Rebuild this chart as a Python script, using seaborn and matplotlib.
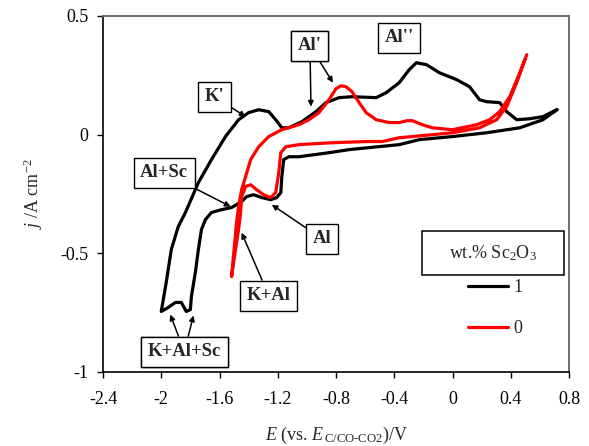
import matplotlib
matplotlib.use("Agg")
import matplotlib.pyplot as plt
from matplotlib.patches import Rectangle
import seaborn as sns
import pandas as pd

# 1 wt.% Sc2O3 cycle (cathodic from 0.7 V, back along the outer branch)
e_sc1 = [0.717, 0.621, 0.462, 0.234, 0.0, -0.228, -0.366, -0.710, -0.848, -1.055,
         -1.124, -1.159, -1.172, -1.179, -1.207, -1.248, -1.310, -1.366, -1.414, -1.448,
         -1.517, -1.586, -1.655, -1.697, -1.724, -1.745, -1.766, -1.793, -1.800, -1.828,
         -1.862, -1.903, -1.952, -2.000, -1.986, -1.966, -1.931, -1.883, -1.834, -1.745,
         -1.655, -1.559, -1.469, -1.400, -1.331, -1.262, -1.214, -1.172, -1.124, -1.034,
         -0.938, -0.869, -0.779, -0.690, -0.524, -0.455, -0.366, -0.297, -0.248, -0.179,
         -0.090, 0.028, 0.117, 0.186, 0.234, 0.324, 0.372, 0.441, 0.531, 0.621,
         0.690, 0.717]
j_sc1 = [0.105, 0.063, 0.029, 0.008, -0.008, -0.021, -0.042, -0.063, -0.076, -0.093,
         -0.093, -0.105, -0.177, -0.244, -0.265, -0.274, -0.265, -0.253, -0.261, -0.282,
         -0.307, -0.316, -0.328, -0.358, -0.400, -0.484, -0.581, -0.682, -0.737, -0.745,
         -0.707, -0.707, -0.728, -0.745, -0.695, -0.623, -0.484, -0.387, -0.328, -0.202,
         -0.105, -0.008, 0.063, 0.093, 0.105, 0.097, 0.063, 0.029, 0.029, 0.055,
         0.097, 0.135, 0.156, 0.160, 0.156, 0.177, 0.219, 0.274, 0.303, 0.295,
         0.261, 0.232, 0.202, 0.147, 0.139, 0.135, 0.097, 0.063, 0.067, 0.076,
         0.097, 0.105]

# 0 wt.% Sc2O3 cycle
e_sc0 = [0.497, 0.441, 0.372, 0.303, 0.186, 0.0, -0.138, -0.366, -0.483, -0.593,
         -0.828, -1.055, -1.145, -1.179, -1.193, -1.214, -1.248, -1.297, -1.345, -1.386,
         -1.421, -1.448, -1.455, -1.469, -1.490, -1.517, -1.483, -1.469, -1.448, -1.421,
         -1.386, -1.331, -1.262, -1.172, -1.055, -0.986, -0.917, -0.848, -0.800, -0.766,
         -0.731, -0.690, -0.641, -0.593, -0.524, -0.434, -0.366, -0.310, -0.276, -0.207,
         -0.138, 0.0, 0.166, 0.255, 0.324, 0.393, 0.462, 0.510]
j_sc0 = [0.316, 0.219, 0.118, 0.063, 0.029, 0.008, 0.0, -0.013, -0.029, -0.029,
         -0.034, -0.042, -0.051, -0.076, -0.160, -0.244, -0.265, -0.253, -0.232, -0.211,
         -0.219, -0.261, -0.328, -0.400, -0.484, -0.598, -0.371, -0.303, -0.232, -0.177,
         -0.105, -0.051, -0.008, 0.021, 0.042, 0.063, 0.093, 0.147, 0.194, 0.206,
         0.202, 0.181, 0.135, 0.093, 0.063, 0.051, 0.051, 0.059, 0.059, 0.042,
         0.029, 0.021, 0.042, 0.063, 0.097, 0.160, 0.261, 0.337]

x_ticks = [-2.4, -2.0, -1.6, -1.2, -0.8, -0.4, 0.0, 0.4, 0.8]
x_tick_labels = ["-2.4", "-2", "-1.6", "-1.2", "-0.8", "-0.4", "0", "0.4", "0.8"]
y_ticks = [-1.0, -0.5, 0.0, 0.5]
y_tick_labels = ["-1", "-0.5", "0", "0.5"]

# label text, box centre, arrow tips
peak_labels = [
    ("K'", (-1.634, 0.160), [(-1.421, 0.076)]),
    ("Al+Sc", (-1.979, -0.160), [(-1.524, -0.303)]),
    ("Al'", (-0.979, 0.375), [(-0.972, 0.118), (-0.821, 0.219)]),
    ("Al''", (-0.366, 0.408), []),
    ("Al", (-0.897, -0.438), [(-1.241, -0.295)]),
    ("K+Al", (-1.262, -0.678), [(-1.448, -0.413)]),
    ("K+Al+Sc", (-1.841, -0.914), [(-1.938, -0.758), (-1.779, -0.762)]),
]

sns.set_theme(style="ticks")
plt.rcParams["font.family"] = ["Liberation Serif", "DejaVu Serif"]
plt.rcParams["mathtext.fontset"] = "custom"
plt.rcParams["mathtext.rm"] = "Liberation Serif"
plt.rcParams["mathtext.it"] = "Liberation Serif:italic"
plt.rcParams["axes.unicode_minus"] = False

fig, ax = plt.subplots(figsize=(5.89, 4.46), dpi=100)
fig.subplots_adjust(left=103 / 589, right=569 / 589, bottom=1 - 372 / 446, top=1 - 16 / 446)

df1 = pd.DataFrame({"E": e_sc1, "j": j_sc1})
df0 = pd.DataFrame({"E": e_sc0, "j": j_sc0})
sns.lineplot(data=df1, x="E", y="j", sort=False, estimator=None, color="black",
             linewidth=2.3, label="1", ax=ax)
sns.lineplot(data=df0, x="E", y="j", sort=False, estimator=None, color="#ff0000",
             linewidth=2.3, label="0", ax=ax)

ax.set_xlim(-2.4, 0.8)
ax.set_ylim(-1.0, 0.5)
ax.set_xticks(x_ticks)
ax.set_xticklabels(x_tick_labels)
ax.set_yticks(y_ticks)
ax.set_yticklabels(y_tick_labels)
ax.tick_params(axis="both", direction="out", length=4.5, width=1, labelsize=13, colors="black")
ax.tick_params(axis="x", pad=9)
ax.tick_params(axis="y", pad=6)
for side in ["left", "bottom"]:
    ax.spines[side].set_color("black")
    ax.spines[side].set_linewidth(1.2)
for side in ["top", "right"]:
    ax.spines[side].set_color("#6e6e6e")
    ax.spines[side].set_linewidth(1.4)

ax.set_xlabel(r"$E$ (vs. $E_{\,\mathrm{C/CO‐CO2}}$)/V", fontsize=13, labelpad=12)
ax.set_ylabel(r"$j$ /A cm$^{-2}$", fontsize=13, labelpad=11)

box = dict(boxstyle="square,pad=0.35", fc="white", ec="black", lw=1)
for text, pos, tips in peak_labels:
    if not tips:
        ax.text(pos[0], pos[1], text, ha="center", va="center", fontsize=13.5,
                fontweight="bold", bbox=box)
    for tip in tips:
        ax.annotate(text, xy=tip, xytext=pos, ha="center", va="center", fontsize=13.5,
                    fontweight="bold", bbox=box,
                    arrowprops=dict(arrowstyle="-|>", color="black", lw=1.1,
                                    mutation_scale=8, shrinkA=0, shrinkB=0))

# legend: boxed title, entries below without frame
ax.add_patch(Rectangle((0.685, 0.272), 0.304, 0.124, transform=ax.transAxes,
                       fill=False, ec="black", lw=1.1))
ax.text(0.837, 0.334, r"wt.% Sc$_2$O$_3$", transform=ax.transAxes,
        ha="center", va="center", fontsize=13)
ax.legend(loc="upper left", bbox_to_anchor=(0.783, 0.26), frameon=False,
          fontsize=13, handlelength=2.2, handletextpad=0.3, labelspacing=1.3,
          borderpad=0, borderaxespad=0)

fig.savefig("out.png", dpi=100)
